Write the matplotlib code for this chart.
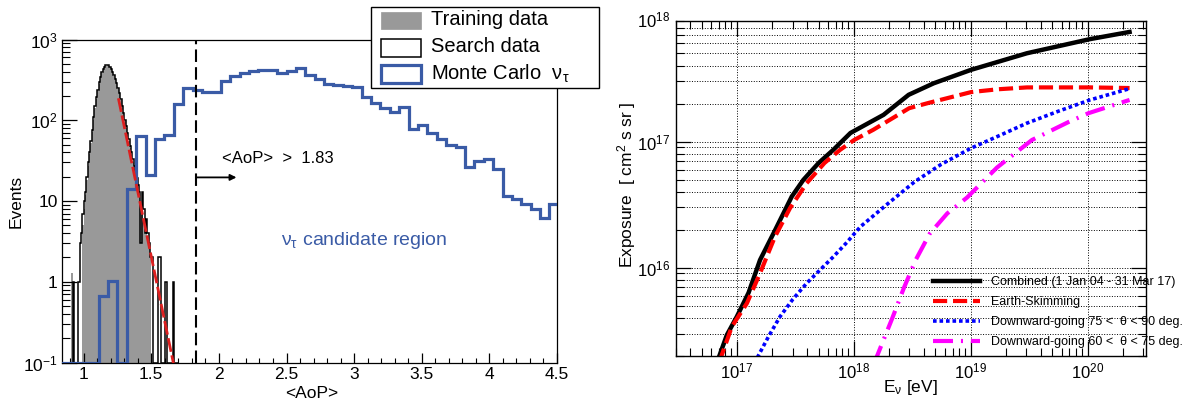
import numpy as np
import matplotlib.pyplot as plt
from matplotlib.patches import Rectangle
from matplotlib.ticker import MultipleLocator, FormatStrFormatter, LogLocator, NullFormatter, FixedLocator, FixedFormatter

plt.rcParams['font.family'] = ['Liberation Sans', 'DejaVu Sans']
plt.rcParams['mathtext.fontset'] = 'custom'
plt.rcParams['mathtext.rm'] = 'Liberation Sans'
plt.rcParams['mathtext.it'] = 'Liberation Sans:italic'
plt.rcParams['mathtext.default'] = 'regular'

# ---------------- left panel: <AoP> histograms ----------------
fine_lo = 0.90          # search / training data: 0.01 wide bins from 0.90
fine_width = 0.01
search_counts = [0, 0, 1, 0, 0, 0, 1, 3, 4, 7,
                 10, 13, 20, 30, 40, 55, 75, 110, 150, 195,
                 240, 295, 345, 395, 435, 460, 478, 488, 478, 460,
                 432, 400, 362, 325, 290, 252, 215, 182, 150, 124,
                 102, 84, 70, 58, 48, 40, 33, 27, 22, 19,
                 16, 13, 3, 13, 8, 4, 6, 4, 3, 2,
                 2, 0, 0, 0, 0, 2, 2, 0, 0, 0,
                 1, 1, 0, 0, 0, 0, 1, 0, 0, 0]
training_counts = [0, 1.3, 0, 0, 0, 0, 0, 0, 0, 5,
                   8, 12, 18, 27, 38, 52, 72, 100, 140, 185,
                   232, 285, 335, 385, 425, 452, 470, 478, 470, 452,
                   425, 392, 355, 318, 282, 245, 210, 177, 146, 120,
                   99, 81, 67, 55, 45, 37, 30, 25, 20, 16.5,
                   13.5, 11, 9, 7.5, 6, 5, 4, 3.2, 2.6, 2.1,
                   0, 0, 0, 0, 0, 0, 0, 0, 0, 0,
                   0, 0, 0, 0, 0, 0, 0, 0, 0, 0]

mc_width = 5 / 72       # Monte Carlo: 72 bins on [0, 5], shown from bin 12
mc_first_bin = 12
mc_counts = [0, 0, 0, 0, 0.66, 1.03, 0, 14, 64, 21,
             58, 65, 158, 248, 236, 226, 222, 305, 355, 385,
             410, 425, 425, 385, 405, 445, 360, 320, 278, 270,
             265, 258, 196, 165, 140, 127, 147, 79, 87, 70,
             58, 49, 46, 26, 31, 33, 25, 11.5, 10.6, 9.3,
             7.9, 6.2, 9.1]

fit_x = [1.257, 1.70]
fit_y = [187, 0.05]
cut_value = 1.83
arrow_end = 2.13
arrow_level = 19.6

# ---------------- right panel: exposure curves ----------------
combined_E = [6.76e16, 7.10e16, 8.22e16, 1.00e17, 1.26e17, 1.58e17, 2.06e17, 2.95e17, 3.71e17,
              5.01e17, 6.68e17, 9.38e17, 1.80e18, 2.95e18, 4.83e18, 1.01e19, 3.03e19, 1.05e20, 2.29e20]
combined_exp = [1.78e15, 2.00e15, 2.92e15, 4.08e15, 6.31e15, 1.15e16, 1.87e16, 3.66e16, 4.97e16,
                6.76e16, 8.59e16, 1.17e17, 1.63e17, 2.35e17, 2.90e17, 3.71e17, 5.02e17, 6.50e17, 7.41e17]
skimming_E = [7.08e16, 9.06e16, 1.22e17, 1.58e17, 2.12e17, 2.85e17, 3.96e17, 5.62e17, 7.64e17,
              1.01e18, 1.47e18, 2.98e18, 4.49e18, 1.01e19, 1.71e19, 3.03e19, 1.05e20, 2.29e20]
skimming_exp = [1.78e15, 3.40e15, 5.21e15, 9.04e15, 1.76e16, 2.96e16, 4.68e16, 6.76e16, 8.59e16,
                1.03e17, 1.24e17, 1.84e17, 2.04e17, 2.47e17, 2.60e17, 2.69e17, 2.69e17, 2.66e17]
dg75_E = [1.41e17, 1.86e17, 2.34e17, 3.02e17, 3.96e17, 5.13e17, 6.70e17, 8.71e17, 1.14e18,
          1.93e18, 3.31e18, 5.62e18, 1.01e19, 1.78e19, 3.03e19, 5.62e19, 1.05e20, 2.29e20]
dg75_exp = [1.74e15, 2.82e15, 4.08e15, 5.62e15, 7.52e15, 9.55e15, 1.22e16, 1.58e16, 2.11e16,
            3.18e16, 4.79e16, 6.61e16, 8.87e16, 1.12e17, 1.40e17, 1.74e17, 2.14e17, 2.63e17]
dg60_E = [1.48e18, 2.14e18, 2.69e18, 3.39e18, 4.47e18, 6.31e18, 9.33e18, 1.68e19, 3.35e19,
          6.89e19, 1.02e20, 2.29e20]
dg60_exp = [1.70e15, 3.98e15, 6.92e15, 1.15e16, 1.86e16, 2.69e16, 3.60e16, 6.22e16, 1.03e17,
            1.43e17, 1.68e17, 2.14e17]
curve_labels = ['Combined (1 Jan 04 - 31 Mar 17)', 'Earth-Skimming',
                'Downward-going 75 <  \u03b8 < 90 deg.', 'Downward-going 60 <  \u03b8 < 75 deg.']

W, H = 1194, 403
BLUE = '#3a5ba6'


def frame(l, t, r, b):
    return [l / W, 1 - b / H, (r - l) / W, (b - t) / H]


fig = plt.figure(figsize=(W / 100, H / 100), dpi=100)

# ---- left ----
ax1 = fig.add_axes(frame(62, 39.5, 557, 362.5))
ax1.set_yscale('log')
ymin = 0.1
fine_edges = fine_lo + fine_width * np.arange(len(search_counts) + 1)
mc_edges = mc_width * (mc_first_bin + np.arange(len(mc_counts) + 1))
train = np.array(training_counts, float)
ax1.stairs(np.where(train > 0, train, 1e-3), fine_edges, fill=True,
           color='#999999', baseline=1e-3, zorder=1)
ax1.stairs(np.maximum(search_counts, ymin), fine_edges, color='black',
           lw=1.1, baseline=None, zorder=2)
ax1.stairs(np.maximum(mc_counts, ymin), mc_edges, color=BLUE,
           lw=2.3, baseline=None, zorder=3)
ax1.plot(fit_x, fit_y, color='#dd2020', lw=2.0, ls=(0, (5, 1.3)), zorder=4)
ax1.axvline(cut_value, color='black', lw=1.5, ls=(0, (6, 2.5)), zorder=4)
ax1.annotate('', xy=(arrow_end, arrow_level), xytext=(cut_value, arrow_level),
             arrowprops=dict(arrowstyle='-|>', lw=1.3, color='black',
                             mutation_scale=9, shrinkA=0, shrinkB=0))
ax1.text(2.02, 34, '<AoP>  >  1.83', fontsize=12, va='center', ha='left')
ax1.text(2.46, 3.2, r'$\mathregular{\nu_\tau}$ candidate region', color=BLUE,
         fontsize=14, va='center', ha='left')

ax1.set_xlim(0.84, 4.5)
ax1.set_ylim(ymin, 1000)
ax1.xaxis.set_major_locator(MultipleLocator(0.5))
ax1.xaxis.set_minor_locator(MultipleLocator(0.1))
ax1.xaxis.set_major_formatter(FormatStrFormatter('%g'))
ax1.yaxis.set_major_locator(FixedLocator([0.1, 1, 10, 100, 1000]))
ax1.yaxis.set_major_formatter(FixedFormatter(
    [r'$\mathregular{10^{-1}}$', '1', '10', r'$\mathregular{10^{2}}$', r'$\mathregular{10^{3}}$']))
ax1.yaxis.set_minor_locator(LogLocator(base=10, subs=np.arange(2, 10)))
ax1.yaxis.set_minor_formatter(NullFormatter())
ax1.tick_params(axis='x', which='major', direction='in', length=7, width=0.9, labelsize=12.5, pad=3)
ax1.tick_params(axis='x', which='minor', direction='in', length=3.5, width=0.8)
ax1.tick_params(axis='y', which='major', direction='in', length=11, width=0.9, labelsize=12.5, pad=3)
ax1.tick_params(axis='y', which='minor', direction='in', length=5.5, width=0.8)
for s in ax1.spines.values():
    s.set_linewidth(0.9)
ax1.set_xlabel('<AoP>', fontsize=12.5)
ax1.xaxis.set_label_coords(0.505, -0.073)
ax1.set_ylabel('Events', fontsize=12.5)
ax1.yaxis.set_label_coords(-0.077, 0.5)

# ---- right ----
ax2 = fig.add_axes(frame(675.7, 20.7, 1145.6, 355.7))
ax2.set_xscale('log')
ax2.set_yscale('log')
ax2.plot(combined_E, combined_exp, color='black', lw=3.2, label=curve_labels[0])
ax2.plot(skimming_E, skimming_exp, color='red', lw=3.0, ls=(0, (3.4, 1.4)), label=curve_labels[1])
ax2.plot(dg75_E, dg75_exp, color='blue', lw=2.6, ls=(0, (1, 0.8)), label=curve_labels[2])
ax2.plot(dg60_E, dg60_exp, color='magenta', lw=3.0, ls=(0, (4.8, 1.9, 0.5, 1.9)), label=curve_labels[3])
ax2.set_xlim(3e16, 3.14e20)
ax2.set_ylim(2e15, 9.1e17)
ax2.xaxis.set_minor_locator(LogLocator(base=10, subs=np.arange(2, 10)))
ax2.yaxis.set_minor_locator(LogLocator(base=10, subs=np.arange(2, 10)))
ax2.xaxis.set_minor_formatter(NullFormatter())
ax2.yaxis.set_minor_formatter(NullFormatter())
ax2.grid(True, which='major', axis='x', color='black', ls=':', lw=0.7)
ax2.grid(True, which='both', axis='y', color='black', ls=':', lw=0.7)
ax2.tick_params(which='major', direction='in', length=11, width=0.9, labelsize=12,
                top=True, right=True, pad=4)
ax2.tick_params(which='minor', direction='in', length=5.5, width=0.8, top=True, right=True)
for s in ax2.spines.values():
    s.set_linewidth(1.0)
ax2.annotate(r'$\mathregular{10^{18}}$', xy=(0, 1), xycoords='axes fraction',
             xytext=(-4, 0), textcoords='offset points', ha='right', va='center', fontsize=12)
ax2.set_xlabel(r'$\mathregular{E_\nu}$ [eV]', fontsize=12.5)
ax2.xaxis.set_label_coords(0.5, -0.067)
ax2.set_ylabel(r'Exposure  [ cm$^2$ s sr ]', fontsize=12.5)
ax2.yaxis.set_label_coords(-0.080, 0.51)
ax2.legend(loc='upper left', bbox_to_anchor=(932.7 / W, 1 - 276 / H), bbox_transform=fig.transFigure,
           frameon=False, fontsize=9, handlelength=3.76, handletextpad=0.93,
           labelspacing=0.65, borderpad=0, borderaxespad=0)

# ---- legend box of the left panel (drawn in figure pixels) ----
ov = fig.add_axes([0, 0, 1, 1], zorder=10)
ov.set_xlim(0, W)
ov.set_ylim(H, 0)
ov.axis('off')
ov.add_patch(Rectangle((371, 6.7), 228.3, 81.3, facecolor='white', edgecolor='black', lw=1.0))
ov.add_patch(Rectangle((381, 12), 40, 16.5, facecolor='#999999', edgecolor='#999999', lw=0.5))
ov.add_patch(Rectangle((381, 38.5), 40, 18, facecolor='white', edgecolor='black', lw=1.1))
ov.add_patch(Rectangle((381, 65), 40, 18, facecolor='white', edgecolor=BLUE, lw=2.3))
legend_labels = ['Training data', 'Search data', r'Monte Carlo  $\mathregular{\nu_\tau}$']
for lab, yc in zip(legend_labels, [19.7, 47, 73.5]):
    ov.text(431, yc, lab, fontsize=14.5, va='center', ha='left')

fig.savefig('out.png', dpi=100)
